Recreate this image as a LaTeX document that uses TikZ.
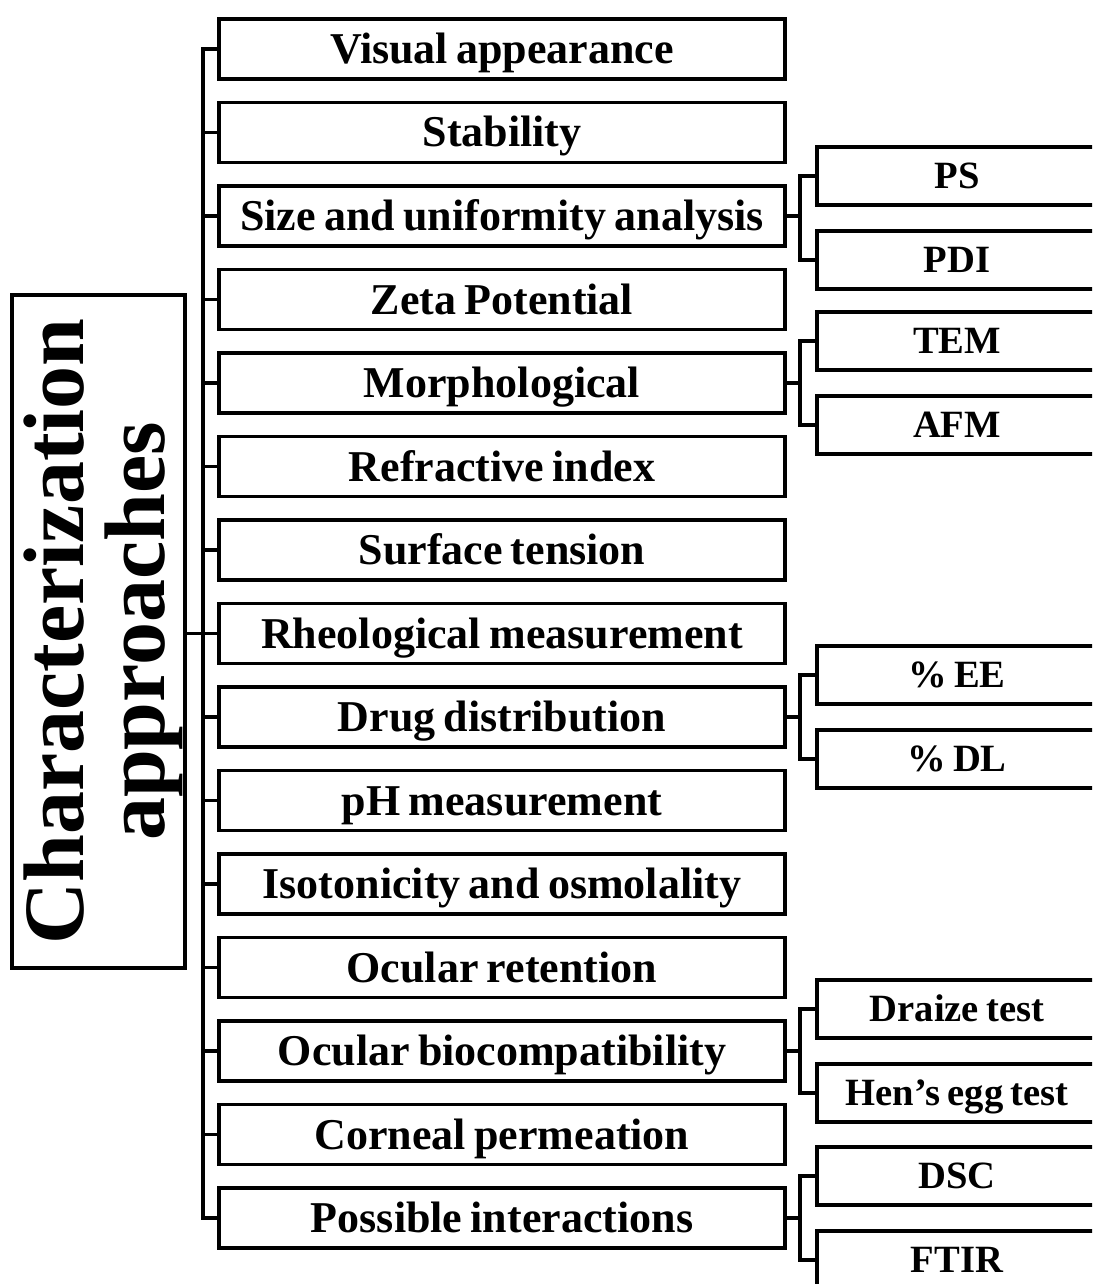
\documentclass[tikz,border=0pt]{standalone}
\usepackage{fontspec}
\setmainfont{Liberation Serif}[WordSpace=0.75]
\begin{document}
\begin{tikzpicture}[x=0.5pt,y=-0.5pt,
  mainbox/.style={draw, line width=1.9pt, minimum width=283pt, minimum height=30pt, inner sep=0pt,
    text height=14.5pt, text depth=0pt,
    font=\bfseries\fontsize{22}{24}\selectfont},
  subbox/.style={draw, line width=1.9pt, minimum width=140pt, minimum height=29pt, inner sep=0pt,
    text height=12.7pt, text depth=0pt,
    font=\bfseries\fontsize{19.3}{22}\selectfont},
  conn/.style={line width=1.7pt, line cap=rect}]
\clip (0,0) rectangle (1092,1284);
% title
\node[draw, line width=1.9pt, minimum width=86.5pt, minimum height=336.5pt, inner sep=0pt] (title) at (98.5,631.5) {};
\node[rotate=90, align=center, inner sep=0pt, font=\bfseries\fontsize{43}{40.5}\selectfont] (titletext) at (103,631.5) {Characterization\\approaches};
% main boxes
\foreach \i/\t in {0/Visual appearance, 1/Stability, 2/Size and uniformity analysis, 3/Zeta Potential,
  4/Morphological, 5/Refractive index, 6/Surface tension, 7/Rheological measurement,
  8/Drug distribution, 9/pH measurement, 10/Isotonicity and osmolality, 11/Ocular retention,
  12/Ocular biocompatibility, 13/Corneal permeation, 14/Possible interactions}
  \node[mainbox] (m\i) at (502,{49+83.5*\i}) {\t};
% sub boxes
\node[subbox] (ps)  at (957,176) {PS};
\node[subbox] (pdi) at (957,260) {PDI};
\node[subbox] (tem) at (957,341) {TEM};
\node[subbox] (afm) at (957,425) {AFM};
\node[subbox] (ee)  at (957,675) {\% EE};
\node[subbox] (dl)  at (957,759) {\% DL};
\node[subbox] (dr)  at (957,1009) {Draize test};
\node[subbox] (he)  at (957,1093) {Hen’s egg test};
\node[subbox] (dsc) at (957,1176) {DSC};
\node[subbox] (ftir) at (957,1260) {FTIR};
% trunk
\coordinate (tr) at (203,0);
\coordinate (bx) at (800,0);
\draw[conn] (m0.west) -- (m0.west -| tr) -- (m14.west -| tr) -- (m14.west);
\foreach \i in {1,...,13} \draw[conn] (m\i.west) -- (m\i.west -| tr);
\draw[conn] (title.east |- m7.west) -- (m7.west);
% sub brackets
\foreach \p/\a/\b in {m2/ps/pdi, m4/tem/afm, m8/ee/dl, m12/dr/he, m14/dsc/ftir} {
  \draw[conn] (\p.east) -- (\p.east -| bx);
  \draw[conn] (\a.west) -- (\a.west -| bx) -- (\b.west -| bx) -- (\b.west);
}
\end{tikzpicture}
\end{document}
